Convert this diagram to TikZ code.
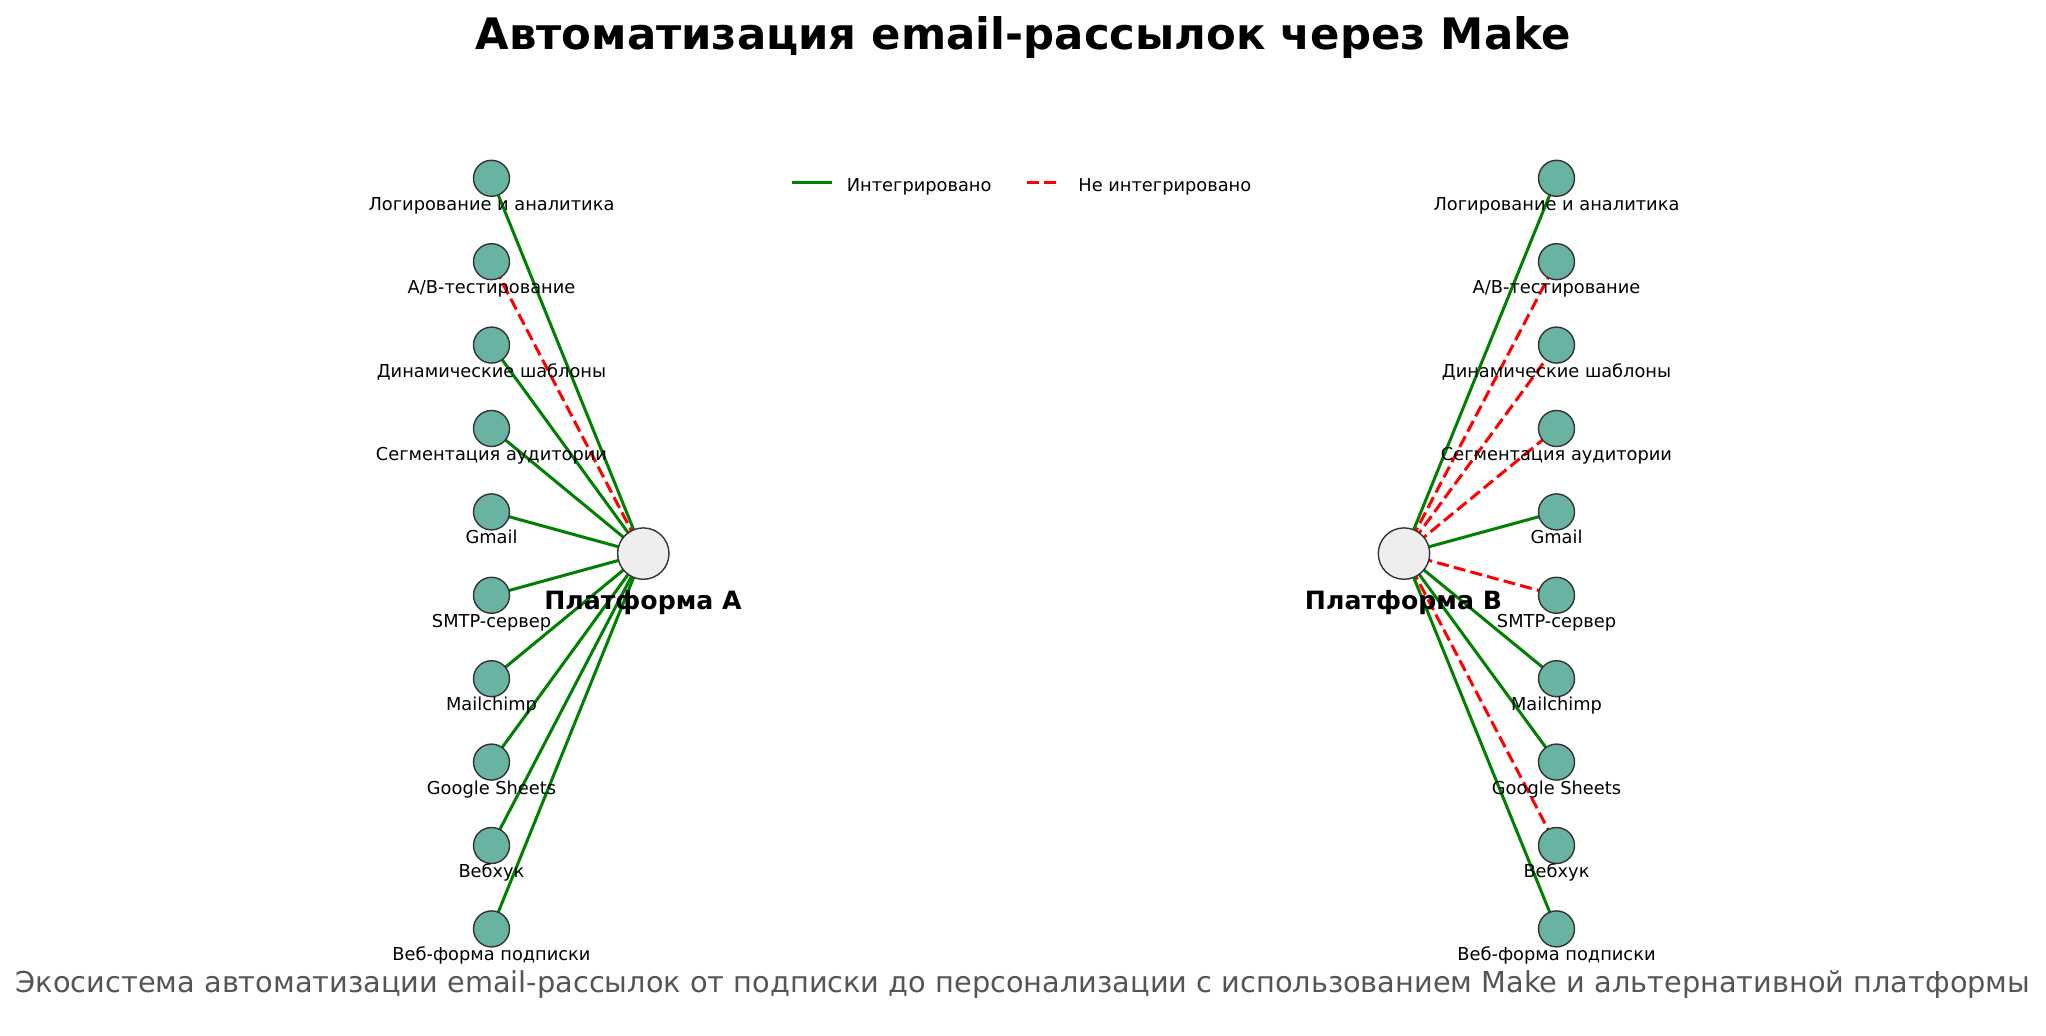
\documentclass[tikz,border=0pt]{standalone}
\usepackage{fontspec}
\setmainfont{DejaVu Sans}
\usetikzlibrary{backgrounds}
\definecolor{toolfill}{HTML}{69B3A2}
\definecolor{rimgray}{HTML}{333333}
\definecolor{platfill}{HTML}{EEEEEE}
\definecolor{okgreen}{HTML}{008000}
\definecolor{subgray}{HTML}{555555}
\begin{document}
\begin{tikzpicture}[x=0.5pt,y=-0.5pt,
  tool/.style={circle, draw=rimgray, fill=toolfill, line width=0.7pt, minimum size=18pt, inner sep=0pt},
  plat/.style={circle, draw=rimgray, fill=platfill, line width=0.7pt, minimum size=25.7pt, inner sep=0pt},
  lbl/.style={font=\fontsize{8.9}{10}\selectfont, text=black, inner sep=0pt, anchor=base},
  platlbl/.style={font=\fontsize{12.6}{14}\selectfont\bfseries, text=black, inner sep=0pt, anchor=base},
  yes/.style={draw=okgreen, line width=1.5pt},
  no/.style={draw=red, line width=1.5pt, dash pattern=on 6pt off 2.6pt},
  legtxt/.style={font=\fontsize{8.9}{10}\selectfont, text=black, inner sep=0pt, anchor=base west},
]
\useasboundingbox (0,0) rectangle (2046,1036);

% title and subtitle
\node[font=\fontsize{21.7}{24}\selectfont\bfseries, inner sep=0pt, anchor=base] (title) at (1023,49.8) {Автоматизация email-рассылок через Make};
\node[font=\fontsize{14.4}{16}\selectfont, text=subgray, inner sep=0pt, anchor=base] (subtitle) at (1023,992.8) {Экосистема автоматизации email-рассылок от подписки до персонализации с использованием Make и альтернативной платформы};

% platforms
\node[plat] (PA) at (643.3,553.6) {};
\node[plat] (PB) at (1404,553.6) {};
\node[platlbl] (PAl) at (643,609.5) {Платформа A};
\node[platlbl] (PBl) at (1403.5,609.5) {Платформа B};

% tools
\foreach \i/\t in {1/{Логирование и аналитика},2/{A/B-тестирование},3/{Динамические шаблоны},4/{Сегментация аудитории},5/{Gmail},6/{SMTP-сервер},7/{Mailchimp},8/{Google Sheets},9/{Вебхук},10/{Веб-форма подписки}}{
  \pgfmathsetmacro{\yy}{178.3+83.4*(\i-1)}
  \node[tool] (L\i) at (491.5,\yy) {};
  \node[tool] (R\i) at (1556.5,\yy) {};
  \node[lbl] (Ll\i) at (491.5,\yy+32) {\t};
  \node[lbl] (Rl\i) at (1556.5,\yy+32) {\t};
}

% connectors
\begin{scope}[on background layer]
  \foreach \i/\s in {1/yes,2/no,3/yes,4/yes,5/yes,6/yes,7/yes,8/yes,9/yes,10/yes}
    \draw[\s] (PA.center) -- (L\i.center);
  \foreach \i/\s in {1/yes,2/no,3/no,4/no,5/yes,6/no,7/yes,8/yes,9/no,10/yes}
    \draw[\s] (PB.center) -- (R\i.center);
\end{scope}

% legend
\coordinate (lg1a) at (792,183);
\coordinate (lg1b) at (831.7,183);
\coordinate (lg2a) at (1027,183);
\coordinate (lg2b) at (1059.4,183);
\draw[yes] (lg1a) -- (lg1b);
\draw[no] (lg2a) -- (lg2b);
\node[legtxt] (lgt1) at (846.5,191.3) {Интегрировано};
\node[legtxt] (lgt2) at (1078,191.3) {Не интегрировано};
\end{tikzpicture}
\end{document}
